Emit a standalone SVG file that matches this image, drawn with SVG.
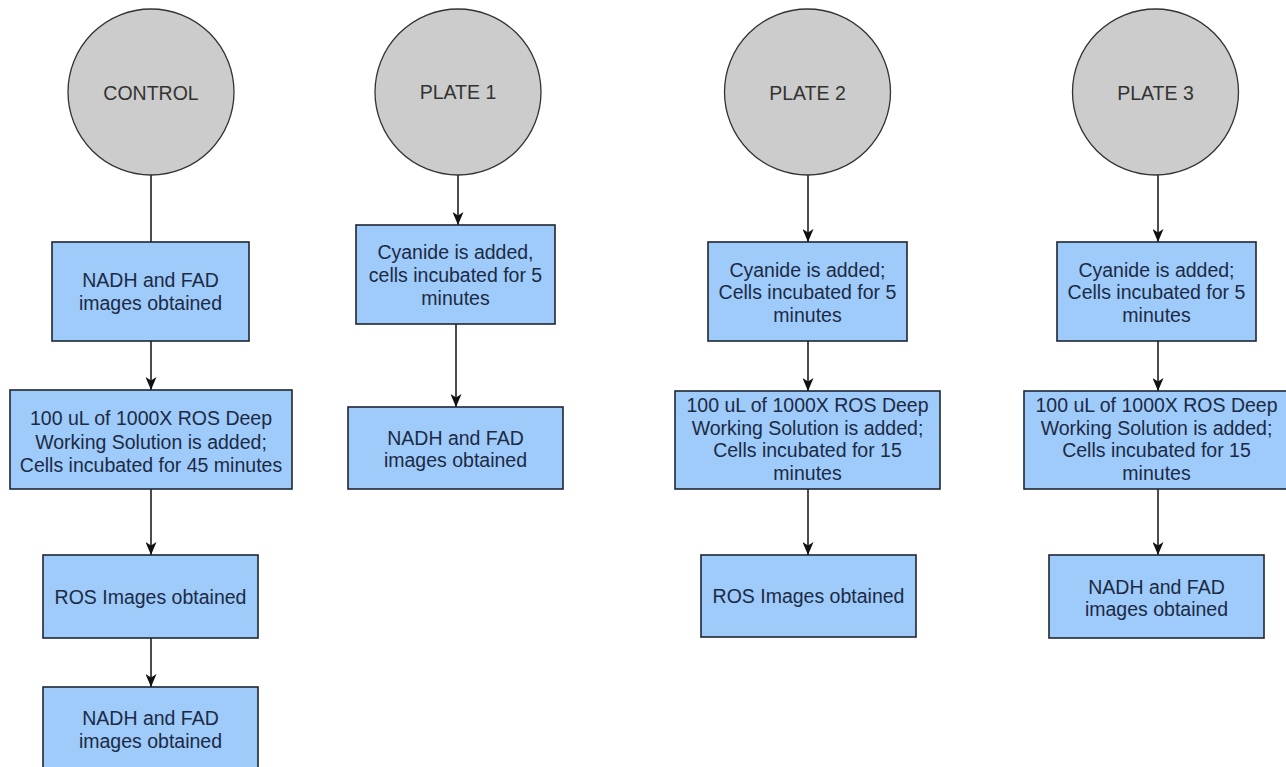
<svg xmlns="http://www.w3.org/2000/svg" width="1286" height="767" viewBox="0 0 1286 767">
<defs>
<marker id="arr" viewBox="0 0 13 11" refX="13" refY="5.5" markerWidth="13" markerHeight="11" markerUnits="userSpaceOnUse" orient="auto">
<path d="M0,0 L13,5.5 L0,11 L3.5,5.5 z" fill="#111"/>
</marker>
<style>
.circ{fill:#cccccc;stroke:#333;stroke-width:1.3}
.box{fill:#9ecbf9;stroke:#1e2633;stroke-width:1.6}
.ct{font-family:"Liberation Sans",Arial,sans-serif;font-size:19.5px;fill:#333;text-anchor:middle}
.bt{font-family:"Liberation Sans",Arial,sans-serif;font-size:19.5px;fill:#1c2a45;text-anchor:middle}
.ln{stroke:#111;stroke-width:1.5;fill:none}
</style>
</defs>
<rect width="1286" height="767" fill="#fff"/>
<g id="connectors">
<line class="ln" x1="151" y1="175" x2="151" y2="242"/>
<line class="ln" x1="151" y1="341" x2="151" y2="390" marker-end="url(#arr)"/>
<line class="ln" x1="151" y1="489" x2="151" y2="555" marker-end="url(#arr)"/>
<line class="ln" x1="151" y1="638" x2="151" y2="687" marker-end="url(#arr)"/>
<line class="ln" x1="458" y1="175" x2="458" y2="225" marker-end="url(#arr)"/>
<line class="ln" x1="456" y1="324" x2="456" y2="407" marker-end="url(#arr)"/>
<line class="ln" x1="808" y1="175" x2="808" y2="242" marker-end="url(#arr)"/>
<line class="ln" x1="808" y1="341" x2="808" y2="391" marker-end="url(#arr)"/>
<line class="ln" x1="808" y1="489" x2="808" y2="555" marker-end="url(#arr)" stroke="#444"/>
<line class="ln" x1="1158" y1="175" x2="1158" y2="242" marker-end="url(#arr)"/>
<line class="ln" x1="1158" y1="341" x2="1158" y2="391" marker-end="url(#arr)"/>
<line class="ln" x1="1158" y1="489" x2="1158" y2="555" marker-end="url(#arr)"/>
</g>
<g id="control">
<circle class="circ" cx="151" cy="92" r="83"/>
<text class="ct" x="151" y="100">CONTROL</text>
</g>
<g id="c-nadh1">
<rect class="box" x="52" y="242" width="197" height="99"/>
<text class="bt" x="150.5" y="287">NADH and FAD</text>
<text class="bt" x="150.5" y="310">images obtained</text>
</g>
<g id="c-ros-add">
<rect class="box" x="10" y="390" width="282" height="99"/>
<text class="bt" x="151" y="425">100 uL of 1000X ROS Deep</text>
<text class="bt" x="151" y="448.5">Working Solution is added;</text>
<text class="bt" x="151" y="472">Cells incubated for 45 minutes</text>
</g>
<g id="c-ros-img">
<rect class="box" x="43" y="555" width="215" height="83"/>
<text class="bt" x="150.5" y="603.5">ROS Images obtained</text>
</g>
<g id="c-nadh2">
<rect class="box" x="43" y="687" width="215" height="86"/>
<text class="bt" x="150.5" y="725">NADH and FAD</text>
<text class="bt" x="150.5" y="748">images obtained</text>
</g>
<g id="plate1">
<circle class="circ" cx="458" cy="92" r="83"/>
<text class="ct" x="458" y="99">PLATE 1</text>
</g>
<g id="p1-cyanide">
<rect class="box" x="356" y="225" width="199" height="99"/>
<text class="bt" x="455.5" y="259">Cyanide is added,</text>
<text class="bt" x="455.5" y="282">cells incubated for 5</text>
<text class="bt" x="455.5" y="305">minutes</text>
</g>
<g id="p1-nadh">
<rect class="box" x="348" y="407" width="215" height="82"/>
<text class="bt" x="455.5" y="444.5">NADH and FAD</text>
<text class="bt" x="455.5" y="467">images obtained</text>
</g>
<g id="plate2">
<circle class="circ" cx="807.5" cy="92" r="83"/>
<text class="ct" x="807.5" y="100">PLATE 2</text>
</g>
<g id="p2-cyanide">
<rect class="box" x="708" y="242" width="199" height="99"/>
<text class="bt" x="807.5" y="276.5">Cyanide is added;</text>
<text class="bt" x="807.5" y="299">Cells incubated for 5</text>
<text class="bt" x="807.5" y="321.5">minutes</text>
</g>
<g id="p2-ros-add">
<rect class="box" x="675" y="391" width="265" height="98"/>
<text class="bt" x="807.5" y="412">100 uL of 1000X ROS Deep</text>
<text class="bt" x="807.5" y="434.5">Working Solution is added;</text>
<text class="bt" x="807.5" y="457">Cells incubated for 15</text>
<text class="bt" x="807.5" y="479.5">minutes</text>
</g>
<g id="p2-ros-img">
<rect class="box" x="701" y="555" width="215" height="82"/>
<text class="bt" x="808.5" y="603">ROS Images obtained</text>
</g>
<g id="plate3">
<circle class="circ" cx="1155.5" cy="92" r="83"/>
<text class="ct" x="1155.5" y="100">PLATE 3</text>
</g>
<g id="p3-cyanide">
<rect class="box" x="1057" y="242" width="199" height="99"/>
<text class="bt" x="1156.5" y="276.5">Cyanide is added;</text>
<text class="bt" x="1156.5" y="299">Cells incubated for 5</text>
<text class="bt" x="1156.5" y="321.5">minutes</text>
</g>
<g id="p3-ros-add">
<rect class="box" x="1024" y="391" width="265" height="98"/>
<text class="bt" x="1156.5" y="412">100 uL of 1000X ROS Deep</text>
<text class="bt" x="1156.5" y="434.5">Working Solution is added;</text>
<text class="bt" x="1156.5" y="457">Cells incubated for 15</text>
<text class="bt" x="1156.5" y="479.5">minutes</text>
</g>
<g id="p3-nadh">
<rect class="box" x="1049" y="555" width="215" height="83"/>
<text class="bt" x="1156.5" y="593.5">NADH and FAD</text>
<text class="bt" x="1156.5" y="615.5">images obtained</text>
</g>
</svg>
